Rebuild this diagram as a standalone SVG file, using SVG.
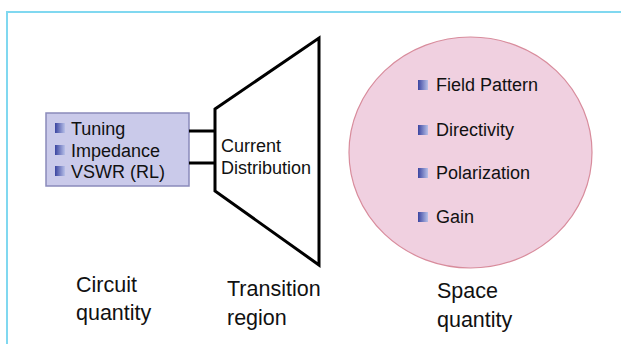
<svg xmlns="http://www.w3.org/2000/svg" width="621" height="344" viewBox="0 0 621 344">
  <style>
    text { font-family: "Liberation Sans", Arial, sans-serif; fill: #111; }
    .item { font-size: 18px; }
    .label { font-size: 21.5px; }
    .wire { stroke: #000; stroke-width: 3; fill: none; }
  </style>
  <defs>
    <linearGradient id="bulletGrad" x1="0" y1="0" x2="1" y2="0">
      <stop offset="0" stop-color="#3a44a0"/>
      <stop offset="1" stop-color="#b8c0e8"/>
    </linearGradient>
    <rect id="bullet" width="10" height="10" fill="url(#bulletGrad)"/>
  </defs>

  <rect width="621" height="344" fill="#fff"/>
  <!-- frame edges -->
  <path d="M7 344 V12 H621" fill="none" stroke="#80d8f0" stroke-width="2"/>

  <!-- circuit-side box -->
  <g id="circuit">
    <rect x="46" y="113" width="143" height="73" fill="#cacaea" stroke="#8a8abb" stroke-width="1.5"/>
    <use href="#bullet" x="55" y="123"/>
    <text class="item" x="71" y="135">Tuning</text>
    <use href="#bullet" x="55" y="145"/>
    <text class="item" x="71" y="157">Impedance</text>
    <use href="#bullet" x="55" y="166"/>
    <text class="item" x="71" y="178">VSWR (RL)</text>
  </g>

  <!-- transition region -->
  <g id="transition">
    <path d="M215 109 L319 38 V265 L215 191 Z" fill="#fff" stroke="#000" stroke-width="3" stroke-linejoin="miter"/>
    <text class="item" x="221" y="152">Current</text>
    <text class="item" x="221" y="174">Distribution</text>
  </g>

  <!-- space-side ellipse -->
  <g id="space">
    <ellipse cx="470.5" cy="152.5" rx="121.5" ry="115.5" fill="#f0d0e0" stroke="#d88c9c" stroke-width="1.2"/>
    <use href="#bullet" x="418" y="80"/>
    <text class="item" x="436" y="91">Field Pattern</text>
    <use href="#bullet" x="418" y="125"/>
    <text class="item" x="436" y="136">Directivity</text>
    <use href="#bullet" x="418" y="168"/>
    <text class="item" x="436" y="179">Polarization</text>
    <use href="#bullet" x="418" y="212"/>
    <text class="item" x="436" y="223">Gain</text>
  </g>

  <!-- connectors -->
  <g id="connectors">
    <line class="wire" x1="189" y1="131" x2="215" y2="131"/>
    <line class="wire" x1="189" y1="163" x2="215" y2="163"/>
  </g>

  <!-- captions -->
  <g id="captions">
    <text class="label" x="76" y="292">Circuit</text>
    <text class="label" x="76" y="320">quantity</text>
    <text class="label" x="227" y="296">Transition</text>
    <text class="label" x="227" y="325">region</text>
    <text class="label" x="437" y="298">Space</text>
    <text class="label" x="437" y="327">quantity</text>
  </g>
</svg>
